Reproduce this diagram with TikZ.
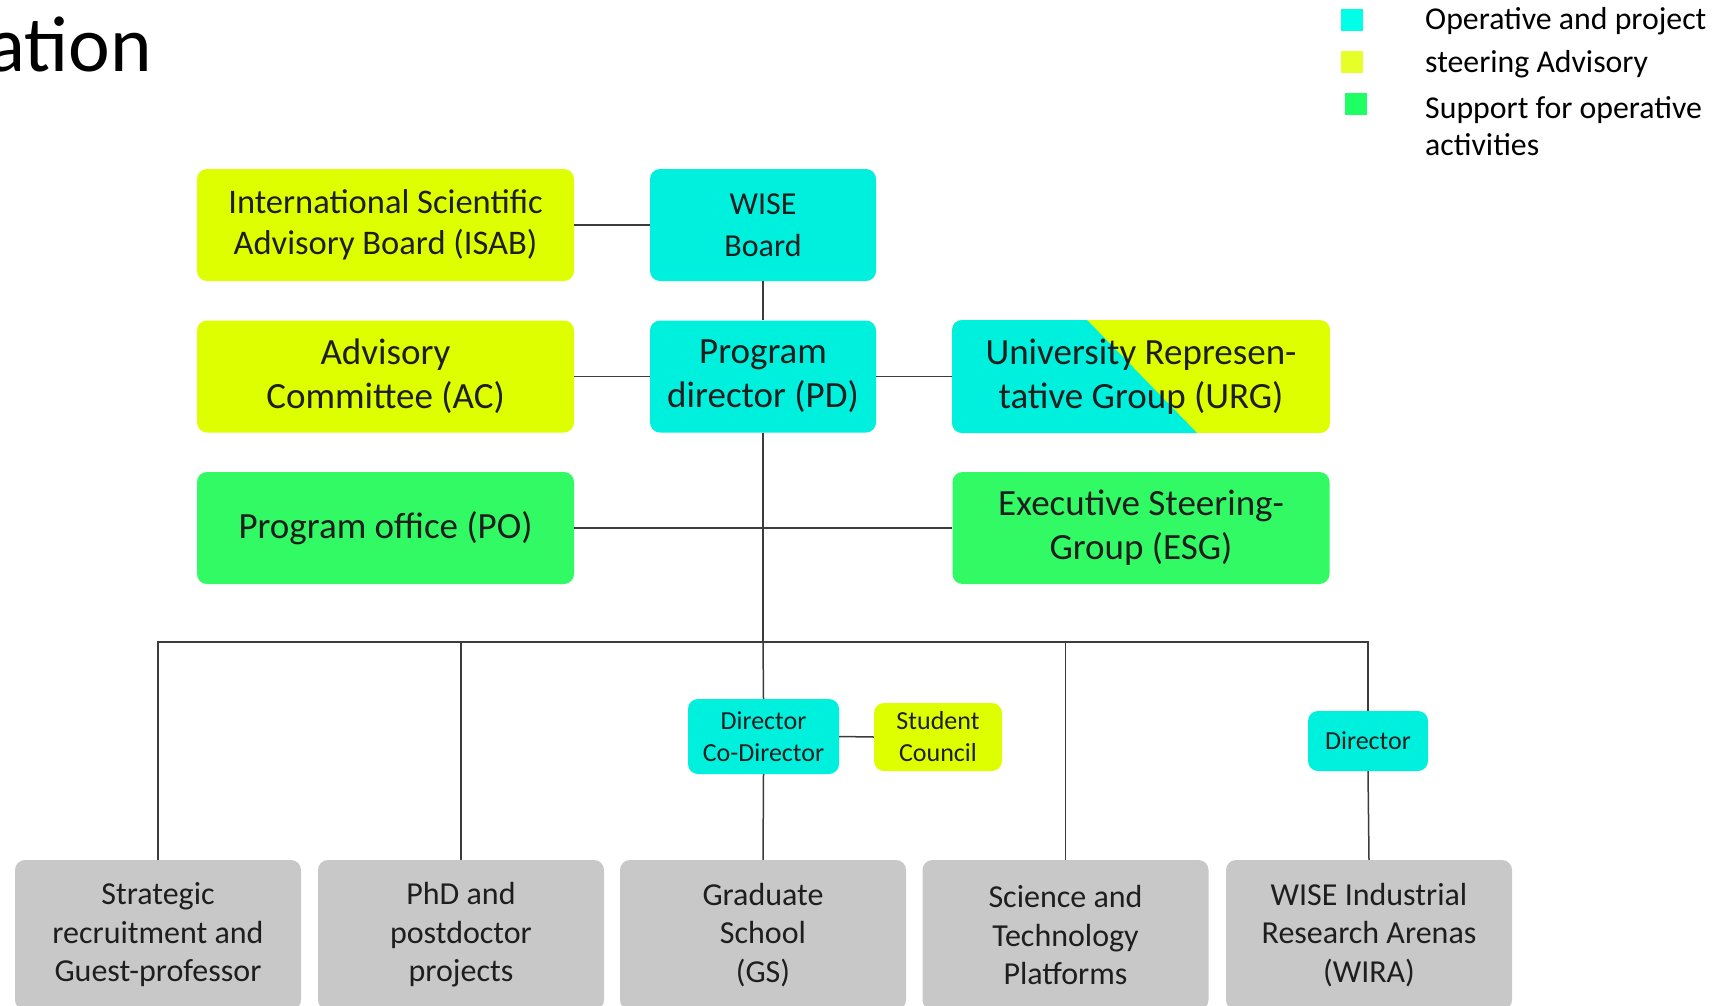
\documentclass[tikz,border=0pt]{standalone}
\usepackage{fontspec}
\setmainfont{Carlito}
\definecolor{cyn}{RGB}{0,240,222}
\definecolor{ylw}{RGB}{222,255,0}
\definecolor{grn}{RGB}{50,250,100}
\definecolor{gry}{RGB}{200,200,200}
\definecolor{lnc}{RGB}{60,60,60}
\definecolor{txt}{RGB}{30,30,30}
\definecolor{lcyn}{RGB}{0,255,230}
\definecolor{lylw}{RGB}{230,255,40}
\definecolor{lgrn}{RGB}{30,255,100}
\begin{document}
\begin{tikzpicture}[x=1pt,y=-1pt,
  box/.style={rounded corners=10pt, inner sep=0pt, align=center, text=txt},
  big/.style={box, minimum width=377pt, minimum height=112pt, font=\fontsize{37}{44}\selectfont},
  mid/.style={box, minimum width=226pt, minimum height=112pt, font=\fontsize{37}{44}\selectfont},
  small/.style={box, font=\fontsize{26}{32}\selectfont},
  bottombox/.style={box, fill=gry, minimum width=286pt, minimum height=150pt, font=\fontsize{32}{38.5}\selectfont},
  link/.style={draw=lnc, line width=1.5pt},
  legsq/.style={minimum width=22pt, minimum height=22pt, inner sep=0pt},
  legtxt/.style={anchor=base west, inner sep=0pt, align=left, font=\fontsize{31.8}{37}\selectfont}]
\useasboundingbox[fill=white] (0,0) rectangle (1724,1005);

% title fragment
\node[anchor=base east, inner sep=0pt, font=\fontsize{79}{95}\selectfont] (title) at (152,71) {ation};

% legend
\node[legsq, fill=lcyn] (lg1) at (1352,20) {};
\node[legsq, fill=lylw] (lg2) at (1352,62) {};
\node[legsq, fill=lgrn] (lg3) at (1356,104) {};
\node[legtxt] (lt1) at (1425,29) {Operative and project};
\node[legtxt] (lt2) at (1425,72) {steering Advisory};
\node[legtxt] (lt3) at (1425,118) {Support for operative};
\node[legtxt] (lt4) at (1425,155) {activities};

% URG background (two colours)
\begin{scope}
  \clip[rounded corners=10pt] (952,320) rectangle (1330,433);
  \fill[ylw] (952,320) rectangle (1330,433);
  \fill[cyn] (952,320) -- (1087,320) -- (1197,433) -- (952,433) -- cycle;
\end{scope}

% upper nodes
\node[big, fill=ylw, font=\fontsize{34.5}{41}\selectfont] (isab) at (385.5,225) {International Scientific\\Advisory Board (ISAB)};
\node[mid, fill=cyn, font=\fontsize{32}{42}\selectfont] (wise) at (763,225) {WISE\\Board};
\node[big, fill=ylw] (ac) at (385.5,376.5) {Advisory\\Committee (AC)};
\node[mid, fill=cyn] (pd) at (763,376.5) {Program\\director (PD)};
\node[box, minimum width=378pt, minimum height=113pt, font=\fontsize{37}{44}\selectfont] (urg) at (1141,376.5) {University Represen-\\tative Group (URG)};
\node[big, fill=grn] (po) at (385.5,528) {Program office (PO)};
\node[big, fill=grn] (esg) at (1141,528) {Executive Steering-\\Group (ESG)};

% small nodes
\node[small, fill=cyn, minimum width=151pt, minimum height=75pt] (dirco) at (763.5,736.5) {Director\\Co-Director};
\node[small, fill=ylw, minimum width=128pt, minimum height=68pt] (stud) at (938,737) {Student\\Council};
\node[small, fill=cyn, minimum width=120pt, minimum height=60pt] (dirr) at (1368,741) {Director};

% bottom nodes
\node[bottombox] (s1) at (158,935) {Strategic\\recruitment and\\Guest-professor};
\node[bottombox] (s2) at (461,935) {PhD and\\postdoctor\\projects};
\node[bottombox] (gs) at (763,935) {Graduate\\School\\(GS)};
\node[bottombox] (stp) at (1065.5,935) {Science and\\Technology\\Platforms};
\node[bottombox] (wira) at (1369,935) {WISE Industrial\\Research Arenas\\(WIRA)};

\coordinate (busc) at (763,642);

% connectors
\draw[link] (isab.east) -- (wise.west);
\draw[link] (wise.south) -- (pd.north);
\draw[link] (ac.east) -- (pd.west);
\draw[link] (pd.east) -- (urg.west);
\draw[link] (po.east) -- (esg.west);
\draw[link] (pd.south) -- (busc);
\draw[link] (s1.north) -- (s1.north |- busc) -- (dirr.north |- busc) -- (dirr.north);
\draw[link] (s2.north) -- (s2.north |- busc);
\draw[link] (busc) -- (dirco.north);
\draw[link] (dirco.south) -- (gs.north);
\draw[link] (dirco.east) -- (stud.west);
\draw[link] (stp.north) -- (stp.north |- busc);
\draw[link] (dirr.south) -- (wira.north);
\end{tikzpicture}
\end{document}
